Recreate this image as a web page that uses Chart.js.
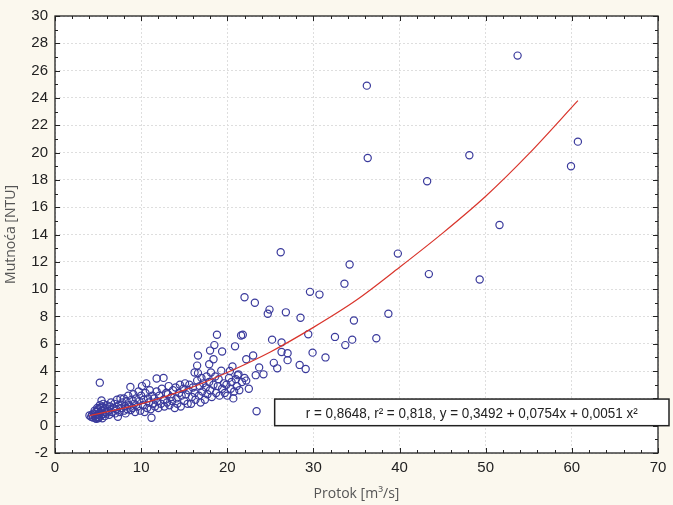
<!DOCTYPE html>
<html>
<head>
<meta charset="utf-8">
<script src="https://cdn.jsdelivr.net/npm/chart.js@4"></script>
<style>
  html, body { margin: 0; padding: 0; background: #fbf8ee; }
  #wrap { width: 673px; height: 505px; }
</style>
</head>
<body>
<div id="wrap"><canvas id="c" width="673" height="505"></canvas></div>
<script>
// flow (Protok) and turbidity (Mutnoca) readings
const flowX = [
  4.0,4.2,4.3,4.4,4.5,4.6,4.7,4.8,4.9,5.0,5.0,5.1,5.2,5.3,5.3,5.4,5.5,5.5,5.6,5.7,5.8,5.9,4.6,4.9,5.2,5.4,5.2,4.8,5.0,5.6,
  5.8,6.0,6.0,6.2,6.3,6.4,6.5,6.6,6.8,6.9,7.0,7.1,7.2,7.3,7.4,7.5,7.6,7.7,7.8,8.0,8.0,8.1,8.2,8.3,8.4,8.5,8.6,8.75,8.8,8.9,
  9.0,9.1,9.2,9.3,9.4,9.6,9.7,9.8,9.9,10.0,10.1,10.2,10.3,10.4,10.5,10.6,10.7,10.8,10.9,11.0,11.1,11.2,11.3,11.4,11.5,11.6,11.8,11.8,11.9,12.0,
  12.1,12.3,12.4,12.6,12.6,12.7,12.9,13.0,13.1,13.2,13.3,13.5,13.6,13.7,13.9,14.0,14.1,14.2,14.4,14.5,14.6,14.7,14.9,15.0,15.1,15.2,15.4,15.5,15.6,15.8,
  15.9,16.0,16.2,16.2,16.3,16.5,16.5,16.6,16.6,16.7,16.8,16.9,17.0,17.1,17.2,17.4,17.5,17.6,17.7,17.9,17.9,18.0,18.0,18.1,18.2,18.4,18.4,18.5,18.6,18.7,
  18.8,18.9,19.0,19.1,19.3,19.4,19.4,19.6,19.7,19.9,20.0,20.2,20.3,20.4,20.5,20.6,20.7,20.8,20.9,21.0,21.1,21.2,21.3,21.4,21.6,21.8,21.7,22.0,22.2,22.2,
  22.5,23.0,23.3,23.7,24.2,23.4,
  53.7,36.2,36.3,60.7,59.9,48.1,43.2,51.6,26.2,39.8,34.2,43.4,49.3,33.6,29.6,30.7,22.0,23.2,24.9,24.7,
  26.8,28.5,38.7,34.7,29.4,32.5,37.3,25.2,34.5,26.3,33.7,26.3,27.0,29.9,31.4,27.0,25.4,28.4,25.8,29.1
];
const turbidityY = [
  0.75,0.65,0.8,0.6,0.9,0.7,0.55,1.0,0.65,0.8,1.2,0.6,0.95,1.3,0.7,1.1,0.55,1.4,0.85,1.2,0.7,1.0,1.1,1.3,1.5,1.85,3.15,0.5,0.55,1.6,
  1.3,0.9,1.5,1.1,0.8,1.4,1.7,1.0,1.3,1.6,0.9,1.2,1.9,0.65,1.5,1.0,2.0,1.3,1.7,1.1,2.0,1.45,0.9,1.8,1.2,2.2,1.5,2.84,1.15,1.9,
  1.3,2.3,1.6,1.0,2.0,1.4,2.5,1.8,1.1,2.2,2.9,1.5,1.9,1.0,2.4,3.1,1.3,2.0,1.7,2.6,1.2,0.58,2.2,1.6,2.0,1.4,3.45,2.5,1.8,1.3,
  2.2,1.6,2.7,3.5,1.9,1.4,2.4,1.7,2.3,2.9,1.5,2.1,1.8,2.6,1.3,2.8,2.0,1.6,2.4,3.0,1.4,2.2,2.7,1.8,3.1,2.3,1.6,2.6,3.0,1.6,
  2.1,2.8,3.9,2.4,1.9,4.4,3.3,5.14,3.85,2.2,2.9,1.7,3.5,2.5,3.1,1.9,2.8,3.6,2.3,4.5,3.2,5.5,2.6,3.9,2.1,4.87,3.0,5.9,3.6,2.4,
  6.66,2.9,3.4,2.2,4.03,5.43,2.7,3.1,2.4,3.0,2.2,3.5,4.0,2.7,3.2,4.34,2.0,2.5,5.81,3.4,2.9,3.7,3.76,2.6,6.6,6.66,3.2,3.5,4.87,3.3,
  2.7,5.14,3.7,4.27,3.76,1.06,
  27.1,24.9,19.6,20.8,19.0,19.8,17.9,14.7,12.7,12.6,11.8,11.1,10.7,10.4,9.8,9.6,9.4,9.0,8.5,8.2,
  8.3,7.9,8.2,7.7,6.7,6.5,6.4,6.3,6.3,6.1,5.9,5.4,5.3,5.35,5.0,4.8,4.6,4.45,4.2,4.15
];

// fitted curve
const fitX = [4, 10, 15, 20, 25, 30, 35, 40, 45, 50, 55, 60.7];
const fitY = [0.73, 1.6, 2.6, 3.9, 5.4, 7.2, 9.2, 11.6, 14.1, 16.8, 19.9, 23.8];

const fitLabel = "r = 0,8648, r\u00b2 = 0,818, y = 0,3492 + 0,0754x + 0,0051 x\u00b2";

const points = flowX.map((x, i) => ({ x: x, y: turbidityY[i] }));
const curve = fitX.map((x, i) => ({ x: x, y: fitY[i] }));

const cream = "#fbf8ee";

// cream page, white plot area
const bgPlugin = {
  id: "bg",
  beforeDraw(chart) {
    const ctx = chart.ctx, a = chart.chartArea;
    ctx.save();
    ctx.fillStyle = cream;
    ctx.fillRect(0, 0, chart.width, chart.height);
    ctx.fillStyle = "#ffffff";
    ctx.fillRect(a.left, a.top, a.right - a.left, a.bottom - a.top);
    ctx.restore();
  }
};

// frame with inward ticks, plus the fit text box
const framePlugin = {
  id: "frame",
  afterDraw(chart) {
    const ctx = chart.ctx, a = chart.chartArea;
    const xs = chart.scales.x, ys = chart.scales.y;
    ctx.save();
    ctx.strokeStyle = "#222";
    ctx.lineWidth = 1.3;
    ctx.strokeRect(a.left, a.top, a.right - a.left, a.bottom - a.top);
    ctx.lineWidth = 1;
    ctx.beginPath();
    for (let v = 0; v <= 70; v += 2) {
      const p = Math.round(xs.getPixelForValue(v)) + 0.5;
      const len = v % 10 === 0 ? 5 : 3;
      ctx.moveTo(p, a.bottom); ctx.lineTo(p, a.bottom - len);
      ctx.moveTo(p, a.top); ctx.lineTo(p, a.top + len);
    }
    for (let v = -2; v <= 30; v += 1) {
      const p = Math.round(ys.getPixelForValue(v)) + 0.5;
      const len = v % 2 === 0 ? 5 : 3;
      ctx.moveTo(a.left, p); ctx.lineTo(a.left + len, p);
      ctx.moveTo(a.right, p); ctx.lineTo(a.right - len, p);
    }
    ctx.stroke();

    // fit equation box
    const bx = xs.getPixelForValue(25.5);
    const by = ys.getPixelForValue(1.95);
    const bw = chart.width - 4 - bx;
    const bh = ys.getPixelForValue(0) - by;
    ctx.fillStyle = "#ffffff";
    ctx.fillRect(bx, by, bw, bh);
    ctx.strokeStyle = "#222";
    ctx.lineWidth = 1.5;
    ctx.strokeRect(bx, by, bw, bh);
    // squeeze the label to the narrow width it has in the original
    ctx.fillStyle = "#222";
    ctx.font = "15px 'Liberation Sans', Arial, sans-serif";
    ctx.textAlign = "left";
    ctx.textBaseline = "middle";
    const want = 332;
    const sx = want / ctx.measureText(fitLabel).width;
    ctx.translate(bx + 31, by + bh / 2 + 1);
    ctx.scale(sx, 1);
    ctx.fillText(fitLabel, 0, 0);
    ctx.restore();
  }
};

new Chart(document.getElementById("c"), {
  type: "scatter",
  data: {
    datasets: [
      {
        label: "Mutnoca",
        data: points,
        showLine: false,
        pointStyle: "circle",
        pointRadius: 3.6,
        pointBorderWidth: 1.2,
        pointBorderColor: "#3a3a9c",
        pointBackgroundColor: "rgba(0,0,0,0)",
        order: 2
      },
      {
        label: "fit",
        data: curve,
        showLine: true,
        borderColor: "#d9342b",
        borderWidth: 1.2,
        pointRadius: 0,
        tension: 0.4,
        cubicInterpolationMode: "monotone",
        order: 1
      }
    ]
  },
  options: {
    responsive: false,
    animation: false,
    devicePixelRatio: 1,
    layout: { padding: { top: 11, right: 15, left: 0, bottom: 0 } },
    plugins: {
      legend: { display: false },
      tooltip: { enabled: false }
    },
    scales: {
      x: {
        type: "linear",
        min: 0, max: 70,
        ticks: { stepSize: 10, color: "#222", padding: 6, font: { size: 15, family: "'Liberation Sans', Arial, sans-serif" } },
        grid: { color: "#dedede", lineWidth: 1, drawTicks: false },
        border: { display: false, dash: [2, 2] },
        title: { display: true, text: "Protok [m\u00b3/s]", color: "#555", padding: { top: 0, bottom: 3 }, font: { size: 14, family: "'Open Sans', sans-serif" } },
        afterFit(s) { s.height = 52; }
      },
      y: {
        type: "linear",
        min: -2, max: 30,
        ticks: { stepSize: 2, color: "#222", padding: 7, font: { size: 15, family: "'Liberation Sans', Arial, sans-serif" } },
        grid: { color: "#dedede", lineWidth: 1, drawTicks: false },
        border: { display: false, dash: [2, 2] },
        title: { display: true, text: "Mutnoća [NTU]", color: "#555", padding: { top: 3, bottom: 0 }, font: { size: 14, family: "'Open Sans', sans-serif" } },
        afterFit(s) { s.width = 55; }
      }
    }
  },
  plugins: [bgPlugin, framePlugin]
});
</script>
</body>
</html>
